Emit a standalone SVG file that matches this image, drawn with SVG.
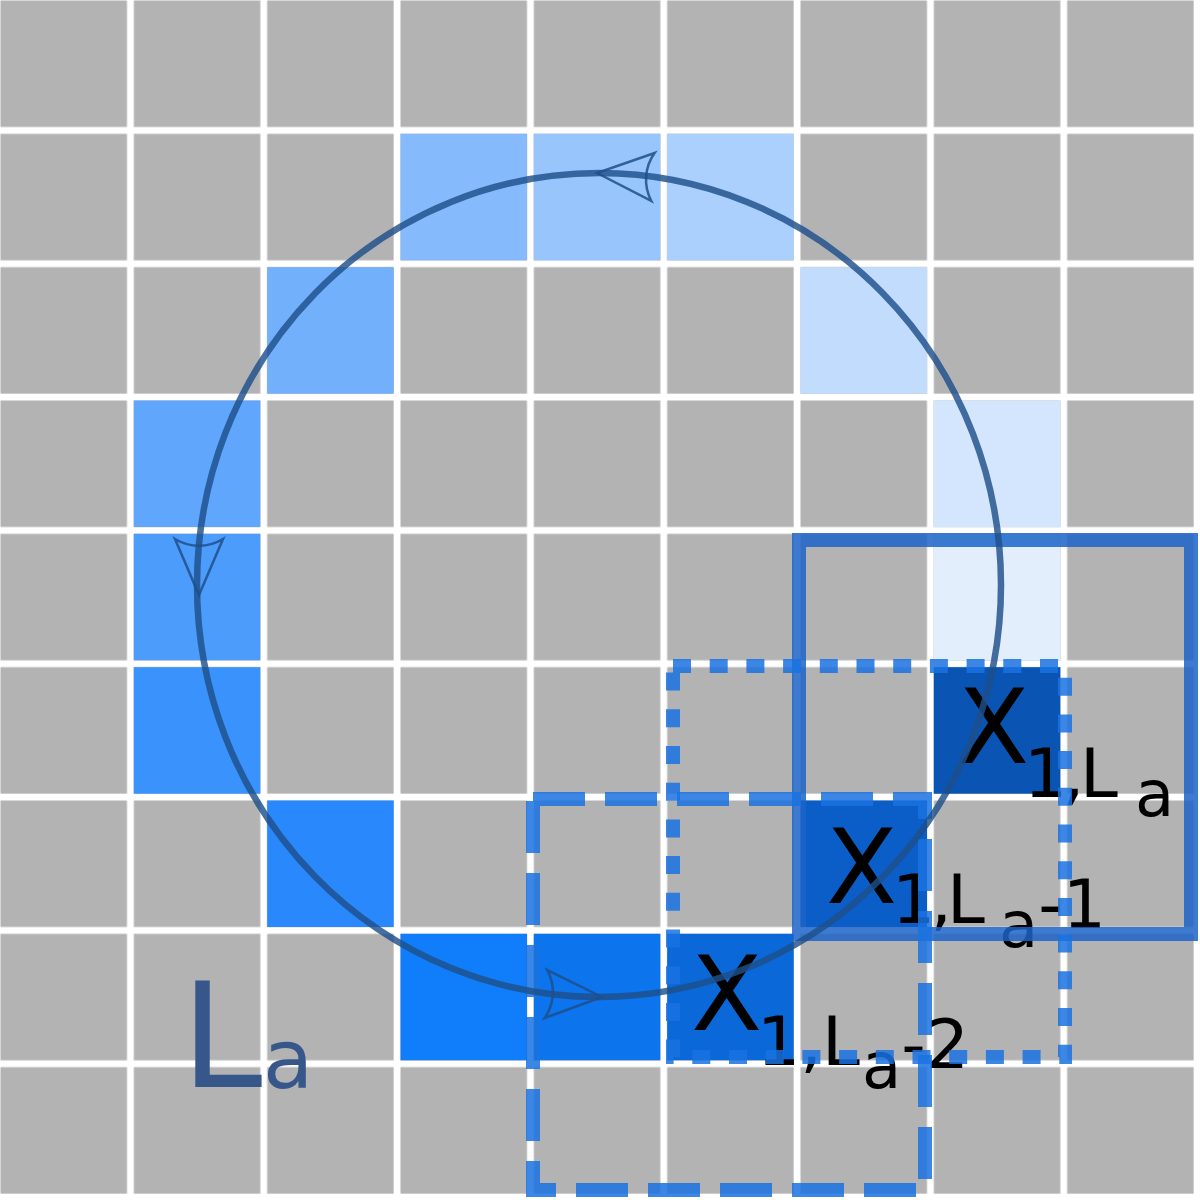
<svg xmlns="http://www.w3.org/2000/svg" width="1200" height="1200" viewBox="0 0 1200 1200">
<style>
.cell{stroke:none}
.win{fill:none;stroke-width:14}
.solid{stroke:#1c64c8;stroke-opacity:.85}
.dot{stroke:#1a72e0;stroke-opacity:.85;stroke-dasharray:18 18.7}
.dash{stroke:#1a72e0;stroke-opacity:.85;stroke-dasharray:52 20}
.cyc{fill:none;stroke:#1f4f8a;stroke-opacity:.82;stroke-width:6.5}
.ah{fill:none;stroke:#1f4f8a;stroke-opacity:.85;stroke-width:2.5;stroke-linejoin:miter}
.lbl{font-family:"DejaVu Sans","Liberation Sans",sans-serif;fill:#000;font-size:104px}
.sub{font-size:68px}
.sub2{font-size:64px}
.la{font-family:"DejaVu Sans","Liberation Sans",sans-serif;fill:#37578a}
</style>
<defs>
<pattern id="gridpat" patternUnits="userSpaceOnUse" x="0" y="0" width="133.3333" height="133.3333">
<rect x="0.5" y="0.5" width="126.5" height="126.5" fill="#b3b3b3"/>
</pattern>
<path id="arr" d="M0,0 L-56,-24 C-47,-9 -47,9 -56,24 Z"/>
</defs>
<rect width="1200" height="1200" fill="#ffffff"/>
<rect id="grid" width="1200" height="1200" fill="url(#gridpat)"/>
<g id="path-cells">
<rect class="cell" x="933.8" y="533.8" width="126.5" height="126.5" fill="#e3eefd"/>
<rect class="cell" x="933.8" y="400.5" width="126.5" height="126.5" fill="#d3e6fd"/>
<rect class="cell" x="800.5" y="267.2" width="126.5" height="126.5" fill="#c1dcfd"/>
<rect class="cell" x="667.2" y="133.8" width="126.5" height="126.5" fill="#abd0fd"/>
<rect class="cell" x="533.8" y="133.8" width="126.5" height="126.5" fill="#98c6fc"/>
<rect class="cell" x="400.5" y="133.8" width="126.5" height="126.5" fill="#85bafc"/>
<rect class="cell" x="267.2" y="267.2" width="126.5" height="126.5" fill="#72b0fc"/>
<rect class="cell" x="133.8" y="400.5" width="126.5" height="126.5" fill="#60a6fc"/>
<rect class="cell" x="133.8" y="533.8" width="126.5" height="126.5" fill="#4c9cfc"/>
<rect class="cell" x="133.8" y="667.2" width="126.5" height="126.5" fill="#3a92fc"/>
<rect class="cell" x="267.2" y="800.5" width="126.5" height="126.5" fill="#2888fc"/>
<rect class="cell" x="400.5" y="933.8" width="126.5" height="126.5" fill="#107efa"/>
<rect class="cell" x="533.8" y="933.8" width="126.5" height="126.5" fill="#0c74ec"/>
</g>
<g id="x-la2">
<rect class="cell" x="667.2" y="933.8" width="126.5" height="126.5" fill="#0a68d8"/>
<text class="lbl" x="691" y="1030">X<tspan class="sub" x="757" y="1065">1,L</tspan><tspan class="sub2" x="862" y="1088">a</tspan><tspan class="sub" y="1068">-2</tspan></text>
</g>
<g id="x-la1">
<rect class="cell" x="800.5" y="800.5" width="126.5" height="126.5" fill="#0b5ec8"/>
<text class="lbl" x="826" y="903">X<tspan class="sub" x="892" y="923" letter-spacing="-5">1,</tspan><tspan class="sub" y="923">L</tspan><tspan class="sub2" x="999" y="947">a</tspan><tspan class="sub" y="928">-1</tspan></text>
</g>
<g id="x-la">
<rect class="cell" x="933.8" y="667.2" width="126.5" height="126.5" fill="#0a54b4"/>
<text class="lbl" x="958" y="763">X<tspan class="sub" x="1024" y="797" letter-spacing="-4.5">1,</tspan><tspan class="sub" y="797">L</tspan><tspan class="sub2" x="1135" y="816">a</tspan></text>
</g>
<g id="windows">
<rect id="win-solid" class="win solid" x="799" y="540" width="392" height="394"/>
<rect id="win-dotted" class="win dot" x="673" y="666" width="392" height="391"/>
<rect id="win-dashed" class="win dash" x="533" y="799" width="392" height="391"/>
</g>
<g id="connectors">
<ellipse class="cyc" cx="599" cy="585" rx="402" ry="412"/>
<use href="#arr" class="ah" transform="translate(597,173) rotate(184)"/>
<use href="#arr" class="ah" transform="translate(199,595) rotate(90)"/>
<use href="#arr" class="ah" transform="translate(602,997) rotate(3)"/>
</g>
<g id="lbl-length">
<text class="la" x="181" y="1087" font-size="146">L<tspan x="263" y="1088" font-size="82">a</tspan></text>
</g>
</svg>
